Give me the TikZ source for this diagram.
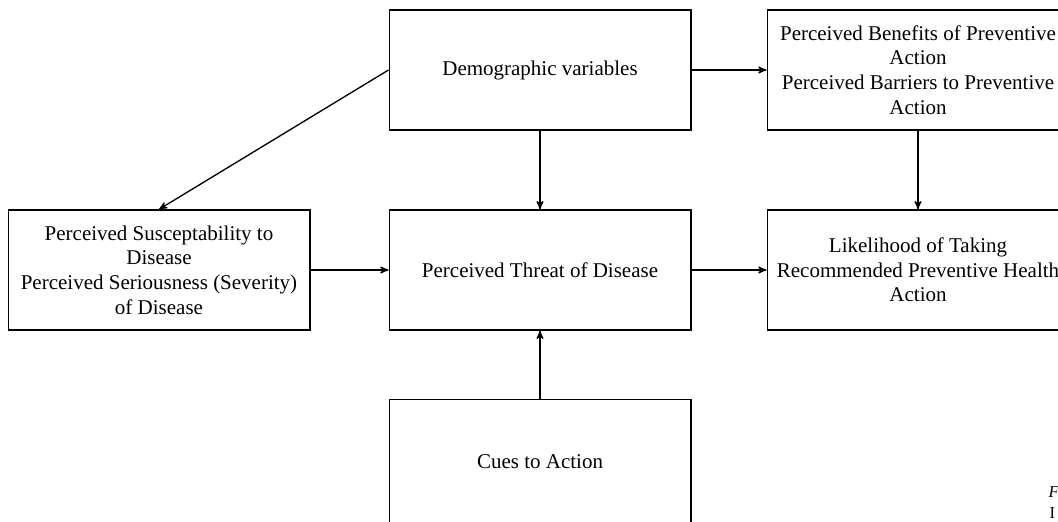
\documentclass[tikz,border=0pt]{standalone}
\usepackage{fontspec}
\setmainfont{Liberation Serif}
\usetikzlibrary{arrows}
\usetikzlibrary{positioning}

\begin{document}
\begin{tikzpicture}[x=0.6pt,y=-0.6pt,->,>=stealth',shorten >=0pt,line width=0.8pt]
		\tikzstyle{box}=[draw,rectangle,align=center,minimum width=181pt,minimum height=72pt,font={\fontsize{12.6}{14.8}\selectfont}]
		\useasboundingbox (0,0) rectangle (1058,522);
		\clip (0,0) rectangle (1058,522);
		
		\node[box]       (D)    at (540,70)     {Demographic variables};
		\node[box]       (T)    at (540,270)    {Perceived Threat of Disease};
		\node[box]       (S)    at (159,270)    {Perceived Susceptability to\\Disease\\Perceived Seriousness (Severity)\\of Disease};
		\node[box]       (B)    at (918,70)     {Perceived Benefits of Preventive\\Action\\Perceived Barriers to Preventive\\Action};
		\node[box]       (L)    at (918,270)    {Likelihood of Taking\\Recommended Preventive Health\\Action};
		\node[box,minimum height=75pt]       (C)    at (540,462)    {Cues to Action};
		\node[anchor=west,inner sep=0pt,font=\itshape]     (F1)   at (1048,492)   {F};
		\node[anchor=west,inner sep=0pt]     (F2)   at (1049,513)   {I};
		
		\path 	(D.west)   edge          (S.north)
		(D)   edge                 (T)
		(D)   edge                 (B)
		(B)   edge                 (L)
		(S)   edge                 (T)
		(T)   edge                 (L)
		(C)   edge                 (T)
		;
\end{tikzpicture}
\end{document}
